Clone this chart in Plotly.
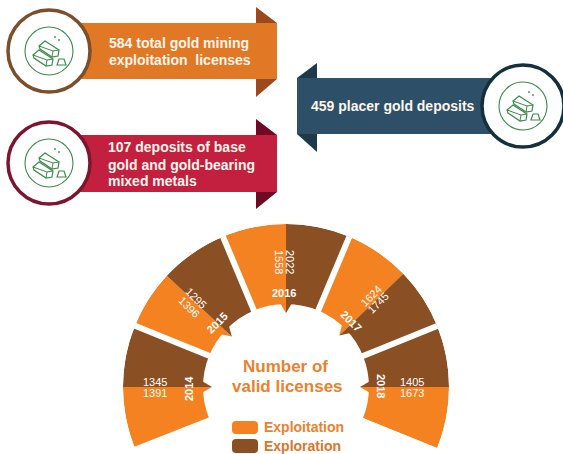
import math
import plotly.graph_objects as go

W, H = 563, 454

# License counts per year
years = ["2014", "2015", "2016", "2017", "2018"]
exploitation = [1391, 1396, 1558, 1624, 1673]
exploration = [1345, 1295, 2022, 1745, 1405]

ORANGE = "#F58220"
BROWN = "#8A4F22"

# Fan layout: angle of the split inside each wedge and the wedge's two outer limits.
# The exploitation half comes first (exploitation limit, split, exploration limit).
wedge_limits = [
    (201.5, 180.0, 157.9),
    (157.9, 137.0, 112.75),
    (112.75, 90.0, 67.15),
    (67.15, 44.0, 22.0),
    (-22.0, 0.0, 22.0),
]
inner_r, outer_r = 83, 163
notch_r = 74
CX, CY = 286, 387


def px(x):
    return x / W


def py(y):
    return 1 - y / H


def path_of(points, closed=True):
    d = "M " + " L ".join(f"{px(x):.5f} {py(y):.5f}" for x, y in points)
    return d + " Z" if closed else d


def circle(cx, cy, r, line, width, fill="rgba(0,0,0,0)"):
    return dict(type="circle", xref="paper", yref="paper",
                x0=px(cx - r), x1=px(cx + r), y0=py(cy + r), y1=py(cy - r),
                line=dict(color=line, width=width), fillcolor=fill, layer="above")


def poly(points, fill):
    return dict(type="path", xref="paper", yref="paper", path=path_of(points),
                fillcolor=fill, line=dict(width=0), layer="above")


def outline(points, color, width=1.2, closed=True, fill="rgba(0,0,0,0)"):
    return dict(type="path", xref="paper", yref="paper", path=path_of(points, closed),
                line=dict(color=color, width=width), fillcolor=fill, layer="above")


def rounded(x0, y0, x1, y1, r, fill):
    d = (f"M {px(x0 + r):.5f} {py(y0):.5f} L {px(x1 - r):.5f} {py(y0):.5f} "
         f"Q {px(x1):.5f} {py(y0):.5f} {px(x1):.5f} {py(y0 + r):.5f} "
         f"L {px(x1):.5f} {py(y1 - r):.5f} Q {px(x1):.5f} {py(y1):.5f} {px(x1 - r):.5f} {py(y1):.5f} "
         f"L {px(x0 + r):.5f} {py(y1):.5f} Q {px(x0):.5f} {py(y1):.5f} {px(x0):.5f} {py(y1 - r):.5f} "
         f"L {px(x0):.5f} {py(y0 + r):.5f} Q {px(x0):.5f} {py(y0):.5f} {px(x0 + r):.5f} {py(y0):.5f} Z")
    return dict(type="path", xref="paper", yref="paper", path=d,
                fillcolor=fill, line=dict(width=0), layer="above")


def ingot(cx, cy, color):
    """One bar in outline: silhouette plus the ridge lines of its top and end faces."""
    rim = [(-10, -5), (-4, -10), (10, -1), (9, 5), (3, 6), (-9, -2)]
    ridge = [(-10, -5), (4, 0), (10, -1)]
    foot = [(4, 0), (3, 6)]
    at = lambda pts: [(cx + x, cy + y) for x, y in pts]
    return [outline(at(rim), color, 1.2, fill="#FFFFFF"),
            outline(at(ridge), color, 1.0, closed=False),
            outline(at(foot), color, 1.0, closed=False)]


def gold_icon(cx, cy):
    """Stack of three ingots in thin green outline, inside a ring."""
    green = "#3E8A4C"
    out = [circle(cx, cy, 24, green, 1.1)]
    out += ingot(cx, cy, green)
    out += ingot(cx - 6, cy + 9, green)
    small = [(10, 8), (15, 8), (17, 14), (8, 14)]
    out.append(outline([(cx + x, cy + y) for x, y in small], green, 1.2, fill="#FFFFFF"))
    for dx, dy in [(6, -14), (10, -11)]:
        out.append(circle(cx + dx, cy + dy, 0.5, green, 1, green))
    return out


def banner(x0, x1, head_x, y0, y1, top, bottom, body, dark):
    return [
        poly([(head_x, top), (x1, y0), (head_x, y0)], dark),
        poly([(head_x, bottom), (x1, y1), (head_x, y1)], dark),
        poly([(x0, y0), (x1, y0), (x1, y1), (x0, y1)], body),
    ]


shapes = []
shapes += banner(70, 277, 256, 23, 79, 7, 97, "#E07826", "#9B4A1E")
shapes += banner(70, 277, 256, 135, 192, 119, 209, "#C3203F", "#6E0A24")
shapes += banner(500, 297, 317, 78, 134, 63, 152, "#2D5068", "#1E3A4A")

for (cx, cy, ring) in [(49, 51, "#7B4F2A"), (49, 163, "#7E1530"), (523, 106, "#14303A")]:
    shapes.append(circle(cx, cy, 41, ring, 3.5, "#FFFFFF"))
    shapes += gold_icon(cx, cy)

shapes.append(rounded(232, 421, 258, 434, 4, ORANGE))
shapes.append(rounded(232, 439, 258, 453, 4, BROWN))

annotations = []


def label(text, x, y, size, color="#FFFFFF", bold=True, angle=0, anchor="center"):
    body = f"<b>{text}</b>" if bold else text
    annotations.append(dict(text=body, x=px(x), y=py(y), xref="paper", yref="paper",
                            xanchor=anchor, yanchor="middle", showarrow=False, textangle=angle,
                            font=dict(family="Liberation Sans", size=size, color=color)))


CREAM = "#FDF6EC"
label("584 total gold mining", 107, 43, 14, CREAM, anchor="left")
label("exploitation&nbsp;&nbsp;licenses", 107, 60, 14, CREAM, anchor="left")
label("107 deposits of base", 106, 147, 14, CREAM, anchor="left")
label("gold and gold-bearing", 106, 165, 14, CREAM, anchor="left")
label("mixed metals", 106, 181, 14, CREAM, anchor="left")
label("459 placer gold deposits", 309, 106, 14, CREAM, anchor="left")

label("Number of", 285, 366, 17, "#E9822F")
label("valid licenses", 287, 386, 17, "#E9822F")
label("Exploitation", 262, 427, 14, "#E9822F", anchor="left")
label("Exploration", 262, 446, 14, "#D9752C", anchor="left")

# Value and year labels, placed along each wedge's split line
value_pos = [
    ((155, 382), (155, 393), (189, 389), 0, -90),
    ((196, 298), (189, 307), (217, 323), 45, -45),
    ((290, 262), (279, 262), (284, 293), 90, 0),
    ((378, 303), (371, 296), (351, 321), -45, 45),
    ((412, 382), (412, 393), (381, 386), 0, 90),
]
for i, (upper, lower, yr, a_val, a_year) in enumerate(value_pos):
    label(str(exploration[i]), upper[0], upper[1], 11, bold=False, angle=a_val)
    label(str(exploitation[i]), lower[0], lower[1], 11, bold=False, angle=a_val)
    label(years[i], yr[0], yr[1], 11, angle=a_year)

fig = go.Figure()

thickness = outer_r - inner_r
for name, color, pick in [("Exploitation", ORANGE, 0), ("Exploration", BROWN, 2)]:
    fig.add_trace(go.Barpolar(
        name=name,
        theta=[(w[pick] + w[1]) / 2 for w in wedge_limits],
        width=[abs(w[pick] - w[1]) for w in wedge_limits],
        r=[thickness] * len(wedge_limits), base=inner_r,
        marker=dict(color=color, line=dict(width=0)),
    ))

# Small pointed tips where the two halves of a wedge meet
tip = 4.0
for edge, split, other in wedge_limits:
    s = 1 if edge > split else -1
    fig.add_trace(go.Scatterpolar(r=[inner_r + 1, notch_r, inner_r + 1], theta=[split, split, split + s * tip],
                                  mode="lines", fill="toself", fillcolor=ORANGE, line=dict(width=0),
                                  hoverinfo="skip"))
    fig.add_trace(go.Scatterpolar(r=[inner_r + 1, notch_r, inner_r + 1], theta=[split, split, split - s * tip],
                                  mode="lines", fill="toself", fillcolor=BROWN, line=dict(width=0),
                                  hoverinfo="skip"))

# White gaps between the yearly wedges
for a in [157.9, 112.75, 67.15, 22.0]:
    fig.add_trace(go.Scatterpolar(r=[inner_r - 4, outer_r + 2], theta=[a, a], mode="lines",
                                  line=dict(color="#FFFFFF", width=6), hoverinfo="skip"))

sector_low, sector_high = -22, 202
fig.update_layout(
    width=W, height=H, margin=dict(l=0, r=0, t=0, b=0),
    paper_bgcolor="#FFFFFF", plot_bgcolor="#FFFFFF", showlegend=False,
    polar=dict(
        domain=dict(x=[px(CX - outer_r), px(CX + outer_r)],
                    y=[py(CY + outer_r * math.sin(math.radians(-sector_low))), py(CY - outer_r)]),
        sector=[sector_low, sector_high],
        bgcolor="rgba(0,0,0,0)",
        radialaxis=dict(visible=False, range=[0, outer_r]),
        angularaxis=dict(visible=False, direction="counterclockwise", rotation=0),
        barmode="overlay",
    ),
    shapes=shapes, annotations=annotations,
)

fig.write_html("out.html")
